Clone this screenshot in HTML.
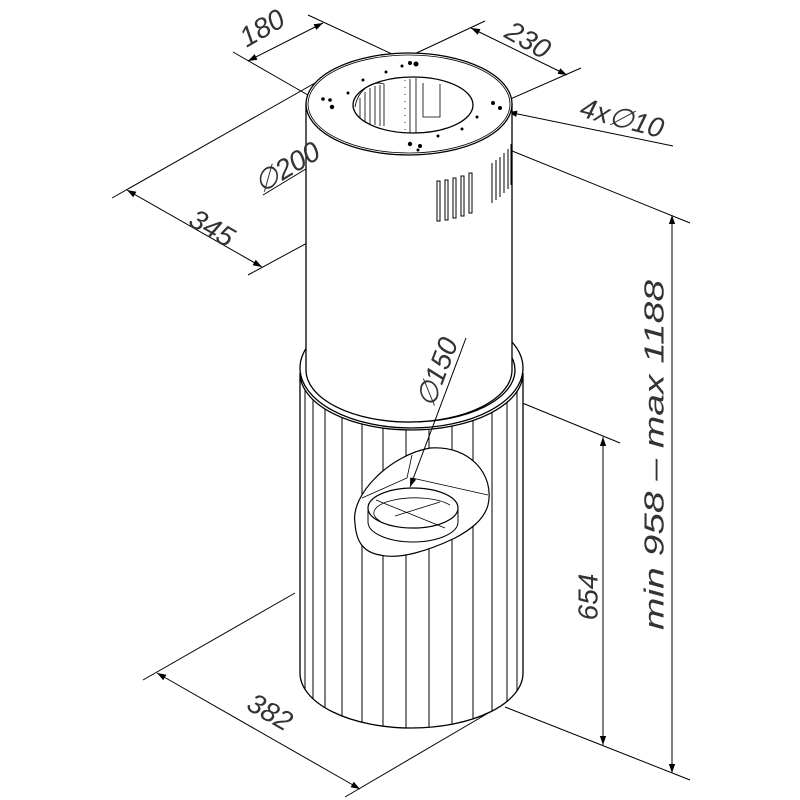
<!DOCTYPE html>
<html><head><meta charset="utf-8"><style>html,body{margin:0;padding:0;background:#fff}svg{display:block}
text{font-family:"Liberation Sans",sans-serif;font-style:italic;font-size:28px;fill:#333;dominant-baseline:central}</style></head>
<body>
<svg width="800" height="800" viewBox="0 0 800 800" xmlns="http://www.w3.org/2000/svg">
<defs>
<marker id="a" viewBox="0 0 10 10" refX="10" refY="5" markerWidth="16" markerHeight="9" markerUnits="userSpaceOnUse" orient="auto-start-reverse"><path d="M0,1.5 L10,5 L0,8.5Z" fill="#000"/></marker>
<clipPath id="lc"><path d="M300,373 A111.5,57 0 0 0 523,373 L523,673 A111.5,55 0 0 1 300,673 Z"/></clipPath>
</defs>
<g stroke="#000" fill="none" stroke-width="1">
<line x1="233" y1="52" x2="320" y2="102"/>
<line x1="308" y1="15" x2="405" y2="60"/>
<line x1="248" y1="61" x2="323" y2="23" marker-start="url(#a)" marker-end="url(#a)"/>
<line x1="485" y1="21" x2="408" y2="57"/>
<line x1="581" y1="68" x2="508" y2="100"/>
<line x1="471" y1="28" x2="567" y2="75" marker-start="url(#a)" marker-end="url(#a)"/>
<line x1="673" y1="146" x2="508" y2="112" marker-end="url(#a)"/>
<line x1="263" y1="195" x2="375" y2="127" marker-end="url(#a)"/>
<line x1="112" y1="198" x2="338" y2="70"/>
<line x1="248" y1="275" x2="470" y2="155"/>
<line x1="127" y1="190" x2="262" y2="267" marker-start="url(#a)" marker-end="url(#a)"/>
<line x1="485" y1="140" x2="690" y2="223"/>
<line x1="672" y1="215" x2="672" y2="773" marker-start="url(#a)" marker-end="url(#a)"/>
<line x1="515" y1="400" x2="620" y2="443"/>
<line x1="603" y1="437" x2="603" y2="745" marker-start="url(#a)" marker-end="url(#a)"/>
<line x1="505" y1="707" x2="690" y2="780"/>
<line x1="143" y1="680" x2="295" y2="593"/>
<line x1="345" y1="797" x2="490" y2="712"/>
<line x1="157" y1="673" x2="360" y2="789" marker-start="url(#a)" marker-end="url(#a)"/>
</g>
<g stroke="#000" stroke-width="1.3" fill="#fff">
<path d="M300,373 A111.5,57 0 0 0 523,373 L523,673 A111.5,55 0 0 1 300,673 Z"/>
<g clip-path="url(#lc)" stroke-width="1">
<line x1="305" y1="350" x2="305" y2="740"/><line x1="313" y1="350" x2="313" y2="740"/>
<line x1="325" y1="350" x2="325" y2="740"/><line x1="342" y1="350" x2="342" y2="740"/>
<line x1="362" y1="350" x2="362" y2="740"/><line x1="383" y1="350" x2="383" y2="740"/>
<line x1="406" y1="350" x2="406" y2="740"/><line x1="429" y1="350" x2="429" y2="740"/>
<line x1="452" y1="350" x2="452" y2="740"/><line x1="473" y1="350" x2="473" y2="740"/>
<line x1="492" y1="350" x2="492" y2="740"/><line x1="507" y1="350" x2="507" y2="740"/>
<line x1="517" y1="350" x2="517" y2="740"/>
</g>
<ellipse cx="411.5" cy="368" rx="111.5" ry="60"/>
<ellipse cx="411" cy="370" rx="104" ry="52"/>
<path d="M306,104 L306,370 A103,52 0 0 0 512,370 L512,104 Z"/>
<ellipse cx="409" cy="104" rx="103" ry="51"/>
<ellipse cx="409" cy="104" rx="101" ry="49" fill="none" stroke-width="0.8"/>
<ellipse cx="413" cy="105" rx="60" ry="28"/>
</g>
<g stroke="#000" stroke-width="0.8" fill="none">
<path d="M355,107 C358,90 372,80 384,84 L384,126"/>
<line x1="360" y1="98" x2="360" y2="118"/><line x1="365" y1="92" x2="365" y2="122"/><line x1="370" y1="88" x2="370" y2="124"/><line x1="375" y1="86" x2="375" y2="125"/><line x1="380" y1="85" x2="380" y2="126"/>
<line x1="405" y1="80" x2="405" y2="133" stroke-dasharray="1,6"/>
<line x1="410" y1="79" x2="410" y2="133"/><line x1="416" y1="78" x2="416" y2="133"/>
<path d="M423,83 L423,117 L440,117 L440,84"/>
</g>
<g fill="#000">
<circle cx="410" cy="63" r="2"/><circle cx="416" cy="64" r="2.5"/><circle cx="402" cy="66" r="1.5"/>
<circle cx="386" cy="72" r="1.5"/><circle cx="363" cy="80" r="1.5"/><circle cx="348" cy="93" r="1.5"/>
<circle cx="323" cy="99" r="1.8"/><circle cx="330" cy="100" r="1.8"/><circle cx="332" cy="107" r="2.2"/>
<circle cx="493" cy="103" r="2"/><circle cx="500" cy="108" r="2"/><circle cx="477" cy="117" r="1.5"/>
<circle cx="462" cy="129" r="1.5"/><circle cx="438" cy="136" r="1.5"/><circle cx="410" cy="144" r="2.2"/>
<circle cx="420" cy="146" r="2"/><circle cx="418" cy="150" r="1.5"/>
</g>
<g fill="none" stroke="#000" stroke-width="1">
<rect x="437" y="181" width="3" height="40"/><rect x="445" y="180" width="3" height="40"/><rect x="453" y="178" width="3" height="40"/><rect x="461" y="176" width="3" height="40"/><rect x="469" y="173" width="3" height="40"/>
<path d="M492,163 L492,203 M496,160 L496,200 M500,157 L500,197 M504,153 L504,193 M508,149 L508,189 M511,144 L511,185"/>
</g>
<g stroke="#000" stroke-width="1.2" fill="#fff">
<path d="M355,523 C350,495 390,455 430,448 C470,445 495,475 488,505 C484,520 470,530 455,538 C430,550 400,560 380,555 C362,552 356,540 355,523 Z"/>
<path d="M368,508 L368,522 A45,20 0 0 0 458,522 L458,508" stroke-width="1"/>
<ellipse cx="413" cy="508" rx="45" ry="20"/>
</g>
<g stroke="#000" stroke-width="0.8" fill="none">
<path d="M362,498 L407,478 L412,455 M412,478 L488,495"/>
<path d="M376,500 L445,528 M395,516 L440,502"/>
<path d="M380,521 A38,14 0 0 1 450,505"/>
</g>
<line x1="466" y1="338" x2="410" y2="487" stroke="#000" stroke-width="1" marker-end="url(#a)"/>
<text transform="translate(262,28) rotate(-30)" text-anchor="middle">180</text>
<text transform="translate(528,40) rotate(30)" text-anchor="middle">230</text>
<text transform="translate(622,118) rotate(15)" text-anchor="middle">4x∅10</text>
<text transform="translate(287,167) rotate(-31)" text-anchor="middle">∅200</text>
<text transform="translate(212,228) rotate(30)" text-anchor="middle">345</text>
<text transform="translate(437,372) rotate(-69)" text-anchor="middle">∅150</text>
<text transform="translate(588,597) rotate(-90)" text-anchor="middle">654</text>
<text transform="translate(654,455) rotate(-90)" text-anchor="middle" textLength="350" lengthAdjust="spacingAndGlyphs">min 958 – max 1188</text>
<text transform="translate(270,712) rotate(30)" text-anchor="middle">382</text>
</svg>
</body></html>
